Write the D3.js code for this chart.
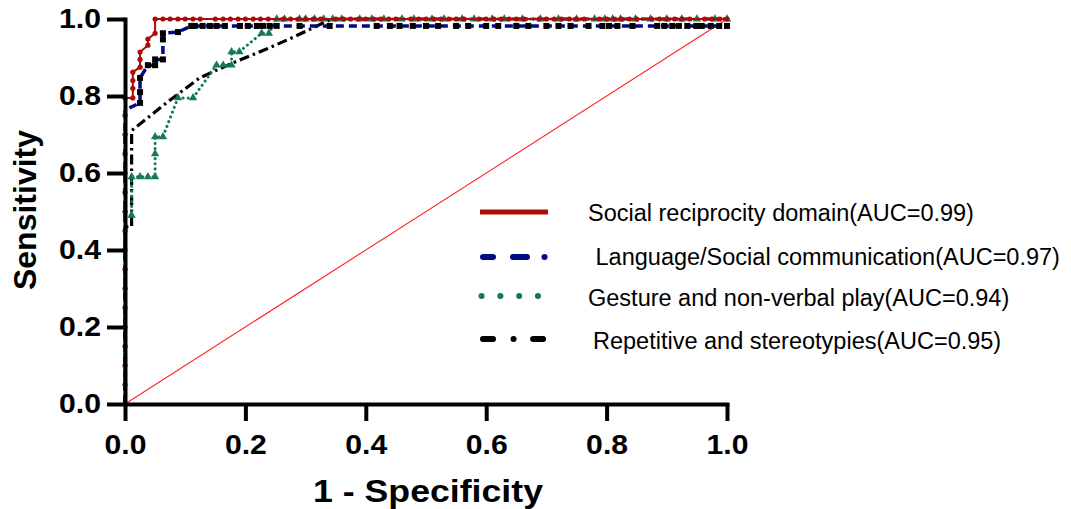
<!DOCTYPE html>
<html>
<head>
<meta charset="utf-8">
<script src="https://cdn.jsdelivr.net/npm/d3@7/dist/d3.min.js"></script>
<style>
  html, body { margin: 0; padding: 0; background: #ffffff; }
  svg { display: block; }
</style>
</head>
<body>
<script>
// ---------------- data ----------------
const xTicks = [0, 0.2, 0.4, 0.6, 0.8, 1.0];
const yTicks = [0, 0.2, 0.4, 0.6, 0.8, 1.0];

const seriesNames = [
  "Social reciprocity domain(AUC=0.99)",
  " Language/Social communication(AUC=0.97)",
  "Gesture and non-verbal play(AUC=0.94)",
  "Repetitive and stereotypies(AUC=0.95)"
];

// Social reciprocity: [1-specificity, sensitivity]
const socialPts = [[0,0],[0,0.05],[0,0.1],[0,0.15],[0,0.2],[0,0.25],[0,0.3],[0,0.35],[0,0.4],[0,0.45],[0,0.5],[0,0.55],[0,0.6],[0,0.65],[0,0.7],[0,0.75],[0,0.795],
  [0.013,0.795],[0.013,0.82],[0.013,0.84],[0.013,0.862],[0.025,0.875],[0.025,0.895],[0.025,0.914],[0.038,0.932],[0.038,0.948],[0.05,0.963],[0.05,1]];
const socialTopFpr = [0.063,0.075,0.088,0.1,0.113,0.125,0.15,0.163,0.175,0.188,0.2,0.213,0.225,0.238,0.263,0.275,0.288,0.3,0.313,0.325,0.35,0.363,0.375,0.388,0.4,0.413,0.425,0.438,0.45,0.475,0.488,0.5,0.513,0.525,0.538,0.55,0.563,0.588,0.6,0.613,0.625,0.638,0.65,0.663,0.688,0.7,0.713,0.725,0.738,0.75,0.763,0.788,0.8,0.813,0.825,0.838,0.85,0.875,0.888,0.9,0.913,0.925,0.938,0.963,0.975,0.988,1];
const socialTopTpr = 1;

// Language / social communication
const languagePts = [[0,0],[0,0.05],[0,0.1],[0,0.15],[0,0.2],[0,0.25],[0,0.3],[0,0.35],[0,0.4],[0,0.45],[0,0.5],[0,0.55],[0,0.6],[0,0.65],[0,0.7],[0,0.743],[0,0.764],
  [0.025,0.782],[0.025,0.81],[0.025,0.847],[0.038,0.88],[0.05,0.88],[0.05,0.895],[0.063,0.895],[0.063,0.947],[0.063,0.963],[0.088,0.966],[0.11,0.982]];
const languageTopFpr = [0.116,0.129,0.141,0.152,0.166,0.191,0.204,0.219,0.229,0.24,0.252,0.29,0.34,0.418,0.44,0.456,0.478,0.5,0.52,0.55,0.57,0.6,0.62,0.65,0.67,0.7,0.72,0.74,0.77,0.793,0.804,0.818,0.843,0.884,0.896,0.909,0.92,0.934,0.949,0.958,0.973,0.987,1];
const languageTopTpr = 0.982;

// Gesture and non-verbal play
const gesturePts = [[0,0],[0,0.05],[0,0.1],[0,0.15],[0,0.2],[0,0.25],[0,0.3],[0,0.35],[0,0.4],[0,0.45],[0,0.49],
  [0.011,0.49],[0.011,0.59],[0.025,0.59],[0.038,0.59],[0.05,0.59],[0.05,0.65],[0.05,0.694],[0.063,0.694],[0.088,0.795],[0.113,0.795],
  [0.152,0.88],[0.163,0.88],[0.177,0.88],[0.177,0.915],[0.19,0.915],[0.227,0.963],[0.239,0.963],[0.252,1]];
const gestureTopFpr = [0.265,0.29,0.3,0.315,0.33,0.345,0.36,0.39,0.41,0.43,0.46,0.48,0.51,0.53,0.56,0.58,0.61,0.63,0.66,0.69,0.72,0.75,0.78,0.797,0.81,0.823,0.848,0.873,0.9,0.925,0.95,0.98,1];
const gestureTopTpr = 1;

// Repetitive and stereotypies
const repetitivePts = [[0,0],[0,0.46],[0.011,0.46],[0.011,0.71],[0.071,0.785],[0.124,0.847],[0.179,0.886],[0.235,0.922],[0.28,0.953],[0.343,1],[1,1]];

// reference diagonal
const diagonalPts = [[0,0],[1,1]];

// ---------------- drawing ----------------
const W = 1071, H = 509;
const svg = d3.select("body").append("svg").attr("width", W).attr("height", H);

const x = d3.scaleLinear().domain([0, 1]).range([125, 727]);
const y = d3.scaleLinear().domain([0, 1]).range([404, 19]);

const social = socialPts.concat(socialTopFpr.map(f => [f, socialTopTpr]));
const language = languagePts.concat(languageTopFpr.map(f => [f, languageTopTpr]));
const gesture = gesturePts.concat(gestureTopFpr.map(f => [f, gestureTopTpr]));

const line = d3.line().x(d => x(d[0])).y(d => y(d[1]));

const colRed = "#ad0a0a", colBlue = "#000a82", colGreen = "#16785a";

// diagonal
svg.append("path").attr("d", line(diagonalPts)).attr("fill", "none")
  .attr("stroke", "#ff2020").attr("stroke-width", 1.1);

// Repetitive (black dash-dot)
svg.append("path").attr("d", line(repetitivePts)).attr("fill", "none")
  .attr("stroke", "#000").attr("stroke-width", 3.2)
  .attr("stroke-dasharray", "10,4,2.5,4");

// Gesture (green dotted + triangles)
svg.append("path").attr("d", line(gesture)).attr("fill", "none")
  .attr("stroke", colGreen).attr("stroke-width", 3)
  .attr("stroke-linecap", "round").attr("stroke-dasharray", "0.1,5");
svg.append("g").selectAll("path").data(gesture.filter(d => d[0] > 0)).join("path")
  .attr("d", d3.symbol().type(d3.symbolTriangle).size(30))
  .attr("transform", d => `translate(${x(d[0])},${y(d[1])})`)
  .attr("fill", colGreen);

// Language (blue dashed + black squares)
svg.append("path").attr("d", line(language)).attr("fill", "none")
  .attr("stroke", colBlue).attr("stroke-width", 3.5)
  .attr("stroke-dasharray", "8,5");
svg.append("g").selectAll("rect").data(language.filter(d => d[0] > 0)).join("rect")
  .attr("x", d => x(d[0]) - 3).attr("y", d => y(d[1]) - 3)
  .attr("width", 6).attr("height", 6).attr("fill", "#000");

// Social (red solid + circles)
svg.append("path").attr("d", line(social)).attr("fill", "none")
  .attr("stroke", colRed).attr("stroke-width", 2);
svg.append("g").selectAll("circle").data(social).join("circle")
  .attr("cx", d => x(d[0])).attr("cy", d => y(d[1])).attr("r", 2.6)
  .attr("fill", colRed);

// ---------------- axes ----------------
const boldFont = "'Liberation Sans', Arial, sans-serif";
const fmt = d3.format(".1f");

const gx = svg.append("g").attr("transform", "translate(0,404)")
  .call(d3.axisBottom(x).tickValues(xTicks).tickFormat(fmt).tickSize(17).tickSizeOuter(0).tickPadding(14));
const gy = svg.append("g").attr("transform", "translate(125,0)")
  .call(d3.axisLeft(y).tickValues(yTicks).tickFormat(fmt).tickSize(18).tickSizeOuter(0).tickPadding(6));

[gx, gy].forEach(g => {
  g.select(".domain").attr("stroke", "#000").attr("stroke-width", 4).attr("stroke-linecap", "square");
  g.selectAll(".tick line").attr("stroke", "#000").attr("stroke-width", 4);
  g.selectAll(".tick text").attr("fill", "#000")
    .attr("textLength", 42).attr("lengthAdjust", "spacingAndGlyphs")
    .style("font-family", boldFont).style("font-weight", "bold").style("font-size", "27px");
});

// axis titles
svg.append("text").attr("x", 428).attr("y", 502).attr("text-anchor", "middle")
  .attr("textLength", 230).attr("lengthAdjust", "spacingAndGlyphs")
  .style("font-family", boldFont).style("font-weight", "bold").style("font-size", "31px")
  .text("1 - Specificity");
svg.append("text").attr("transform", "translate(36,210) rotate(-90)").attr("text-anchor", "middle")
  .style("font-family", boldFont).style("font-weight", "bold").style("font-size", "32px")
  .text("Sensitivity");

// ---------------- legend ----------------
const legendFont = "'Liberation Sans', Arial, sans-serif";
const leg = svg.append("g");
// red solid
leg.append("line").attr("x1", 480).attr("x2", 548).attr("y1", 212).attr("y2", 212)
  .attr("stroke", colRed).attr("stroke-width", 5);
// blue dash
leg.append("line").attr("x1", 483).attr("x2", 546).attr("y1", 257).attr("y2", 257)
  .attr("stroke", colBlue).attr("stroke-width", 6).attr("stroke-linecap", "round")
  .attr("stroke-dasharray", "10,20,14,17.5,0.1,50");
// green dots
leg.append("line").attr("x1", 481.5).attr("x2", 539).attr("y1", 296).attr("y2", 296)
  .attr("stroke", colGreen).attr("stroke-width", 6).attr("stroke-linecap", "round")
  .attr("stroke-dasharray", "0.1,18.7");
// black dash-dot
leg.append("line").attr("x1", 483).attr("x2", 544).attr("y1", 339).attr("y2", 339)
  .attr("stroke", "#000").attr("stroke-width", 6).attr("stroke-linecap", "round")
  .attr("stroke-dasharray", "10,20.5,0.1,19.5,10,50");

const legTextX = [588, 589, 588, 593];
const legTextY = [221, 265, 306, 349];
leg.selectAll("text.lt").data(seriesNames).join("text").attr("class", "lt")
  .attr("x", (d, i) => legTextX[i]).attr("y", (d, i) => legTextY[i])
  .attr("xml:space", "preserve")
  .style("white-space", "pre")
  .style("font-family", legendFont).style("font-size", "23.5px").attr("fill", "#000")
  .text(d => d);
</script>
</body>
</html>
